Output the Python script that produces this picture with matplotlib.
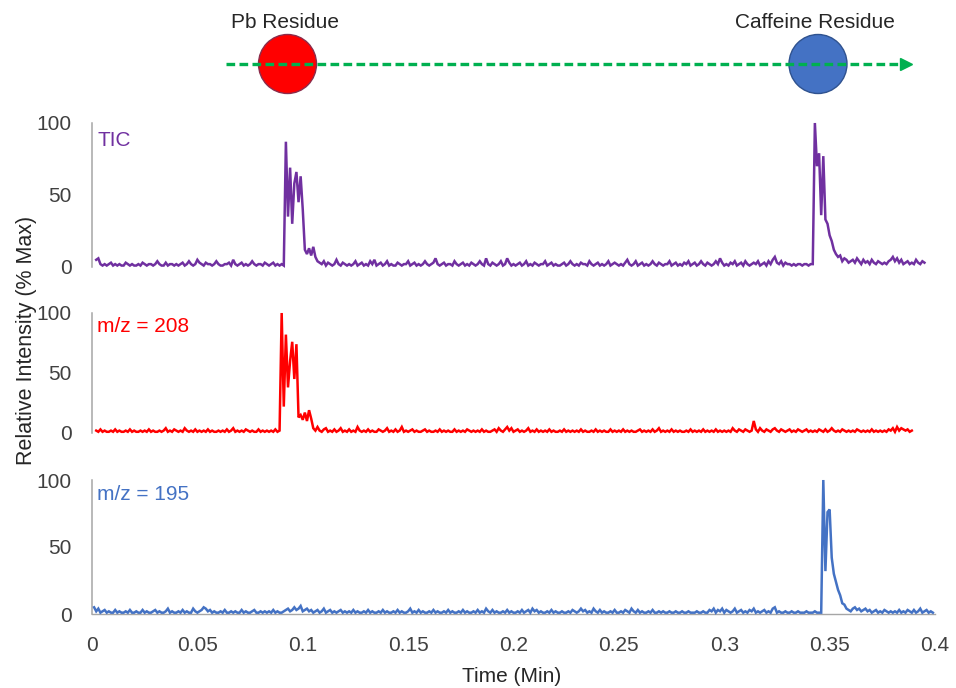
import numpy as np
import matplotlib
matplotlib.use("Agg")
import matplotlib.pyplot as plt
from matplotlib.patches import Ellipse

plt.rcParams['font.family'] = ['Liberation Sans', 'DejaVu Sans']

# ---- data -------------------------------------------------------------
scan_step = 0.001  # min between scans

tic_start = 0.002
tic = [
    5, 6, 2, 1, 2, 1, 2, 3, 1, 2, 1, 2, 1, 1, 3, 2, 1, 2, 1, 1,
    2, 1, 3, 2, 1, 2, 2, 1, 2, 4, 2, 1, 1, 3, 1, 2, 2, 1, 2, 1,
    2, 3, 1, 2, 4, 2, 1, 2, 5, 3, 2, 1, 3, 2, 2, 1, 2, 4, 2, 1,
    1, 2, 2, 3, 1, 5, 2, 1, 2, 3, 1, 2, 1, 2, 4, 2, 1, 2, 2, 1,
    3, 2, 1, 2, 3, 1, 2, 1, 2, 1, 87, 35, 69, 30, 58, 66, 45, 63, 40, 12,
    9, 13, 8, 14, 7, 4, 3, 2, 4, 1, 3, 2, 1, 2, 5, 2, 1, 3, 2, 1,
    2, 1, 2, 4, 1, 2, 3, 1, 2, 1, 4, 2, 5, 1, 2, 3, 1, 2, 4, 1,
    2, 1, 1, 3, 2, 1, 2, 2, 4, 1, 2, 3, 1, 2, 1, 2, 4, 2, 1, 2,
    3, 6, 2, 1, 2, 3, 1, 2, 2, 1, 4, 2, 1, 2, 3, 1, 2, 1, 3, 2,
    1, 2, 4, 2, 1, 6, 2, 1, 3, 2, 1, 2, 4, 1, 2, 6, 3, 1, 2, 1,
    2, 3, 1, 2, 4, 1, 2, 1, 3, 2, 1, 2, 2, 4, 1, 2, 3, 1, 2, 1,
    1, 2, 3, 1, 2, 4, 2, 1, 2, 1, 3, 2, 2, 1, 4, 2, 1, 2, 3, 1,
    2, 1, 2, 4, 1, 2, 3, 2, 1, 2, 1, 3, 5, 2, 1, 2, 4, 1, 2, 3,
    1, 2, 1, 2, 4, 2, 1, 3, 2, 1, 2, 2, 4, 1, 2, 3, 1, 2, 1, 3,
    2, 4, 1, 2, 3, 1, 2, 4, 2, 1, 3, 2, 1, 2, 4, 2, 6, 3, 1, 2,
    1, 3, 2, 4, 1, 2, 3, 1, 4, 2, 1, 2, 3, 2, 4, 1, 2, 3, 1, 4,
    2, 5, 7, 3, 2, 4, 1, 3, 2, 2, 1, 2, 1, 2, 2, 1, 2, 2, 1, 2,
    2, 100, 70, 79, 36, 77, 33, 30, 22, 18, 12, 9, 7, 8, 4, 6, 5, 3, 4, 5,
    3, 6, 4, 2, 5, 3, 4, 2, 5, 3, 2, 4, 3, 2, 3, 2, 4, 5, 7, 4,
    6, 3, 5, 2, 3, 4, 2, 3, 2, 5, 3, 2, 4, 3,
]

mz208_start = 0.002
mz208 = [
    2, 1, 3, 1, 2, 1, 1, 2, 1, 3, 1, 2, 1, 1, 2, 1, 3, 1, 2, 1,
    1, 2, 1, 2, 1, 3, 1, 2, 1, 1, 2, 1, 2, 4, 1, 2, 1, 3, 2, 1,
    2, 1, 4, 2, 1, 2, 1, 3, 1, 2, 1, 2, 1, 3, 1, 2, 1, 1, 2, 1,
    2, 1, 3, 1, 2, 4, 1, 2, 1, 2, 1, 3, 2, 1, 2, 1, 1, 3, 1, 2,
    1, 2, 1, 2, 1, 3, 1, 2, 100, 22, 82, 38, 60, 76, 45, 74, 13, 15, 11, 17,
    10, 19, 12, 4, 2, 5, 2, 1, 3, 4, 1, 2, 1, 3, 1, 2, 4, 1, 2, 1,
    3, 1, 2, 1, 5, 2, 1, 2, 1, 3, 1, 2, 1, 1, 3, 2, 1, 2, 4, 1,
    2, 1, 3, 1, 2, 5, 1, 2, 1, 2, 3, 1, 2, 1, 1, 2, 3, 1, 2, 1,
    1, 2, 1, 3, 1, 2, 1, 2, 1, 1, 3, 1, 2, 1, 2, 1, 3, 2, 1, 2,
    1, 2, 1, 3, 1, 2, 1, 1, 2, 3, 1, 4, 2, 1, 3, 5, 2, 4, 1, 2,
    3, 1, 2, 1, 2, 4, 1, 2, 1, 3, 1, 2, 1, 2, 1, 3, 1, 2, 1, 1,
    2, 1, 3, 1, 2, 1, 2, 1, 2, 1, 3, 1, 2, 1, 1, 2, 1, 3, 1, 2,
    1, 2, 1, 1, 3, 1, 2, 1, 2, 1, 3, 1, 2, 1, 2, 1, 1, 2, 3, 1,
    2, 1, 2, 1, 3, 1, 2, 4, 1, 2, 1, 2, 1, 3, 1, 2, 1, 2, 1, 1,
    2, 1, 3, 1, 2, 1, 2, 1, 3, 1, 2, 1, 2, 1, 3, 1, 2, 1, 2, 1,
    2, 1, 4, 2, 1, 3, 2, 1, 3, 2, 1, 2, 10, 3, 1, 4, 2, 1, 3, 2,
    1, 3, 4, 2, 1, 3, 2, 1, 2, 3, 1, 2, 1, 3, 2, 1, 2, 3, 1, 2,
    1, 2, 1, 3, 2, 1, 3, 1, 2, 4, 2, 1, 2, 1, 3, 2, 1, 2, 1, 2,
    1, 3, 2, 1, 2, 1, 2, 1, 3, 1, 2, 1, 2, 1, 2, 1, 3, 2, 4, 1,
    5, 2, 4, 3, 2, 3, 1, 2,
]

mz195_start = 0.001
mz195 = [
    5, 2, 4, 1, 2, 3, 1, 2, 1, 1, 3, 1, 2, 1, 1, 2, 1, 3, 1, 1,
    2, 1, 1, 3, 1, 2, 1, 1, 2, 3, 1, 2, 1, 1, 2, 4, 1, 2, 1, 1,
    2, 1, 3, 1, 2, 1, 1, 4, 2, 1, 2, 3, 5, 4, 2, 3, 1, 2, 1, 1,
    2, 1, 3, 1, 1, 2, 1, 2, 1, 1, 3, 1, 2, 1, 1, 2, 3, 1, 1, 2,
    1, 2, 1, 2, 1, 3, 1, 2, 1, 1, 2, 3, 4, 2, 3, 5, 3, 4, 6, 2,
    3, 4, 2, 3, 1, 2, 3, 1, 2, 4, 1, 2, 3, 1, 2, 1, 2, 3, 1, 2,
    1, 2, 1, 3, 1, 2, 1, 1, 2, 1, 3, 1, 2, 1, 1, 2, 1, 3, 1, 2,
    1, 1, 2, 1, 3, 1, 2, 1, 1, 2, 4, 1, 2, 1, 3, 1, 2, 1, 1, 2,
    1, 3, 1, 2, 1, 1, 2, 1, 3, 1, 2, 1, 1, 2, 1, 3, 1, 2, 1, 1,
    2, 1, 3, 1, 2, 1, 4, 2, 1, 3, 1, 2, 1, 1, 2, 1, 3, 1, 2, 1,
    1, 2, 1, 3, 1, 2, 3, 1, 4, 2, 3, 1, 2, 1, 1, 2, 1, 3, 1, 2,
    1, 1, 2, 1, 1, 2, 1, 3, 2, 1, 2, 4, 2, 3, 1, 2, 1, 4, 2, 1,
    3, 1, 2, 1, 1, 2, 1, 3, 1, 1, 2, 1, 3, 2, 1, 4, 2, 1, 3, 1,
    2, 1, 1, 2, 1, 3, 1, 1, 2, 1, 2, 1, 1, 2, 1, 1, 2, 1, 1, 2,
    1, 1, 2, 1, 1, 1, 2, 1, 1, 2, 1, 1, 3, 2, 4, 1, 3, 2, 4, 1,
    3, 2, 1, 2, 4, 1, 2, 3, 1, 2, 1, 3, 2, 4, 1, 2, 1, 2, 3, 1,
    2, 1, 4, 5, 1, 2, 1, 1, 2, 1, 1, 2, 1, 1, 2, 1, 1, 1, 2, 1,
    1, 1, 2, 1, 1, 1, 100, 32, 76, 78, 42, 30, 24, 18, 14, 8, 7, 4, 3, 2,
    4, 5, 3, 4, 2, 3, 4, 2, 3, 1, 2, 3, 1, 2, 1, 3, 2, 1, 2, 1,
    2, 1, 3, 1, 2, 1, 3, 2, 1, 3, 1, 2, 4, 1, 2, 3, 1, 2, 1,
]

series_labels = ["TIC", "m/z = 208", "m/z = 195"]
series_colors = ["#7030A0", "#FF0000", "#4472C4"]
y_ticks = [0, 50, 100]
x_ticks = [0, 0.05, 0.1, 0.15, 0.2, 0.25, 0.3, 0.35, 0.4]
x_tick_labels = ["0", "0.05", "0.1", "0.15", "0.2", "0.25", "0.3", "0.35", "0.4"]

# ---- figure -----------------------------------------------------------
W, H = 956, 688
fig = plt.figure(figsize=(W / 100, H / 100), dpi=100)

text_col = "#262626"
tick_col = "#404040"
axis_col = "#A6A6A6"

# panel boxes in pixels: (y of 0 line, height of 0..100)
panels = [(267, 144), (433, 120), (614, 134)]
left_px, right_px = 92, 935

traces = [
    (tic_start, tic),
    (mz208_start, mz208),
    (mz195_start, mz195),
]

axes = []
for i, ((y0, h), (start, vals)) in enumerate(zip(panels, traces)):
    ax = fig.add_axes([left_px / W, 1 - y0 / H, (right_px - left_px) / W, h / H])
    t = start + scan_step * np.arange(len(vals))
    ax.plot(t, vals, color=series_colors[i], lw=1.8, clip_on=False,
            solid_joinstyle="miter", zorder=3)
    ax.set_xlim(0, 0.4)
    ax.set_ylim(0, 100)
    for s in ["top", "right"]:
        ax.spines[s].set_visible(False)
    ax.spines["left"].set_color(axis_col)
    ax.spines["left"].set_linewidth(1.1)
    ax.set_yticks(y_ticks)
    ax.tick_params(axis="y", length=0, pad=14.5, labelsize=15, labelcolor=tick_col)
    if i < 2:
        ax.spines["bottom"].set_visible(False)
        ax.set_xticks([])
    else:
        ax.spines["bottom"].set_color(axis_col)
        ax.spines["bottom"].set_linewidth(1.0)
        ax.set_xticks(x_ticks)
        ax.set_xticklabels(x_tick_labels)
        ax.tick_params(axis="x", length=0, pad=16, labelsize=15, labelcolor=tick_col)
    ax.patch.set_alpha(0)
    ax.text(5 / (right_px - left_px), [0.875, 0.89, 0.895][i], series_labels[i],
            transform=ax.transAxes, ha="left", va="center",
            fontsize=15, color=series_colors[i])
    axes.append(ax)

fig.text(27 / W, 1 - 340 / H, "Relative Intensity (% Max)", rotation=90,
         ha="center", va="center", fontsize=15.5, color=text_col)
fig.text(512 / W, 1 - 677 / H, "Time (Min)", ha="center", va="center",
         fontsize=15, color=text_col)

# ---- sampling schematic on top -----------------------------------------
top_h = 110
sk = fig.add_axes([0, 1 - top_h / H, 1, top_h / H])
sk.set_xlim(0, W)
sk.set_ylim(top_h, 0)
sk.axis("off")

green = "#00B050"
sk.add_patch(Ellipse((287.5, 64), 58, 59, facecolor="#FF0000",
                     edgecolor="#8B2C4B", lw=1.0, zorder=2))
sk.add_patch(Ellipse((818, 64), 58, 59, facecolor="#4472C4",
                     edgecolor="#2F528F", lw=1.0, zorder=2))
sk.plot([226, 902], [64, 64], color=green, lw=2.4, dashes=(2.6, 1.3), zorder=3)
sk.plot([906], [64], marker=">", ms=8, color=green, mec=green, zorder=3)

sk.text(285, 23, "Pb Residue", ha="center", va="center", fontsize=15, color=text_col)
sk.text(815, 23, "Caffeine Residue", ha="center", va="center", fontsize=15, color=text_col)

fig.savefig("out.png", dpi=100, facecolor="white")
